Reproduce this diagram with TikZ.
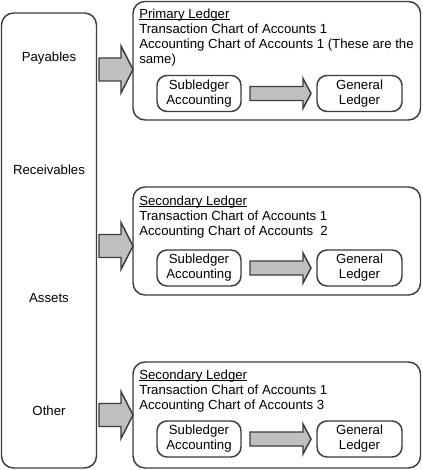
\documentclass[tikz,border=0pt]{standalone}
\usepackage{fontspec}
\setmainfont{Liberation Sans}
\definecolor{linec}{HTML}{3C3C3C}
\definecolor{fillc}{HTML}{C0C0C0}
\newcommand\myul[1]{\setbox0\hbox{#1}\rlap{\rule[-1.4pt]{\wd0}{0.75pt}}#1}
\begin{document}
\begin{tikzpicture}[x=0.75pt,y=-0.75pt,
  font=\fontsize{9.9pt}{11.25pt}\selectfont,
  box/.style={draw=linec, line width=1.1pt, rounded corners=9pt},
  ibox/.style={draw=linec, line width=1.1pt, rounded corners=7.5pt, align=center, inner sep=0pt, minimum height=27pt},
  fat/.style={draw=linec, line width=1.1pt, fill=fillc, line join=miter},
  txt/.style={anchor=base west, inner sep=0pt},
  lbl/.style={anchor=base, inner sep=0pt}]
\useasboundingbox (0,0) rectangle (422,470);

% left column
\draw[box] (1.5,13) rectangle (96.5,468);
\node[lbl] (pay) at (49,62) {Payables};
\node[lbl] (rec) at (49,175) {Receivables};
\node[lbl] (ass) at (49,302) {Assets};
\node[lbl] (oth) at (49,415) {Other};

% big arrows
\foreach \c in {69.5,246,415}{
  \draw[fat] (99,\c-11.5) -- (121,\c-11.5) -- (121,\c-23.5) -- (133,\c)
     -- (121,\c+23.5) -- (121,\c+11.5) -- (99,\c+11.5) -- cycle;
}

% ledger boxes
\draw[box] (133,1.5) rectangle (420.5,120);
\draw[box] (133,187) rectangle (420.5,295);
\draw[box] (133,362) rectangle (420.5,468);

% box 1 text
\node[txt] (p1) at (139,18.5) {\myul{Primary Ledger}};
\node[txt] (p2) at (139,33.5) {Transaction Chart of Accounts 1};
\node[txt] (p3) at (139,48.5) {Accounting Chart of Accounts 1 (These are the};
\node[txt] (p4) at (139,63.5) {same)};

% box 2 text
\node[txt] (s1) at (139,205) {\myul{Secondary Ledger}};
\node[txt] (s2) at (139,220) {Transaction Chart of Accounts 1};
\node[txt] (s3) at (139,235) {Accounting Chart of Accounts\ \ 2};

% box 3 text
\node[txt] (t1) at (139,379) {\myul{Secondary Ledger}};
\node[txt] (t2) at (139,394) {Transaction Chart of Accounts 1};
\node[txt] (t3) at (139,409.5) {Accounting Chart of Accounts 3};

% inner boxes and arrows
\foreach \c/\n in {93.5/a,268/b,439/c}{
  \node[ibox, minimum width=63pt] (sub\n) at (199,\c) {Subledger\\Accounting};
  \node[ibox, minimum width=63.75pt] (gl\n) at (359.5,\c) {General\\Ledger};
  \draw[fat] (250,\c-7) -- (303,\c-7) -- (303,\c-15) -- (311,\c)
     -- (303,\c+15) -- (303,\c+7) -- (250,\c+7) -- cycle;
}
\end{tikzpicture}
\end{document}
